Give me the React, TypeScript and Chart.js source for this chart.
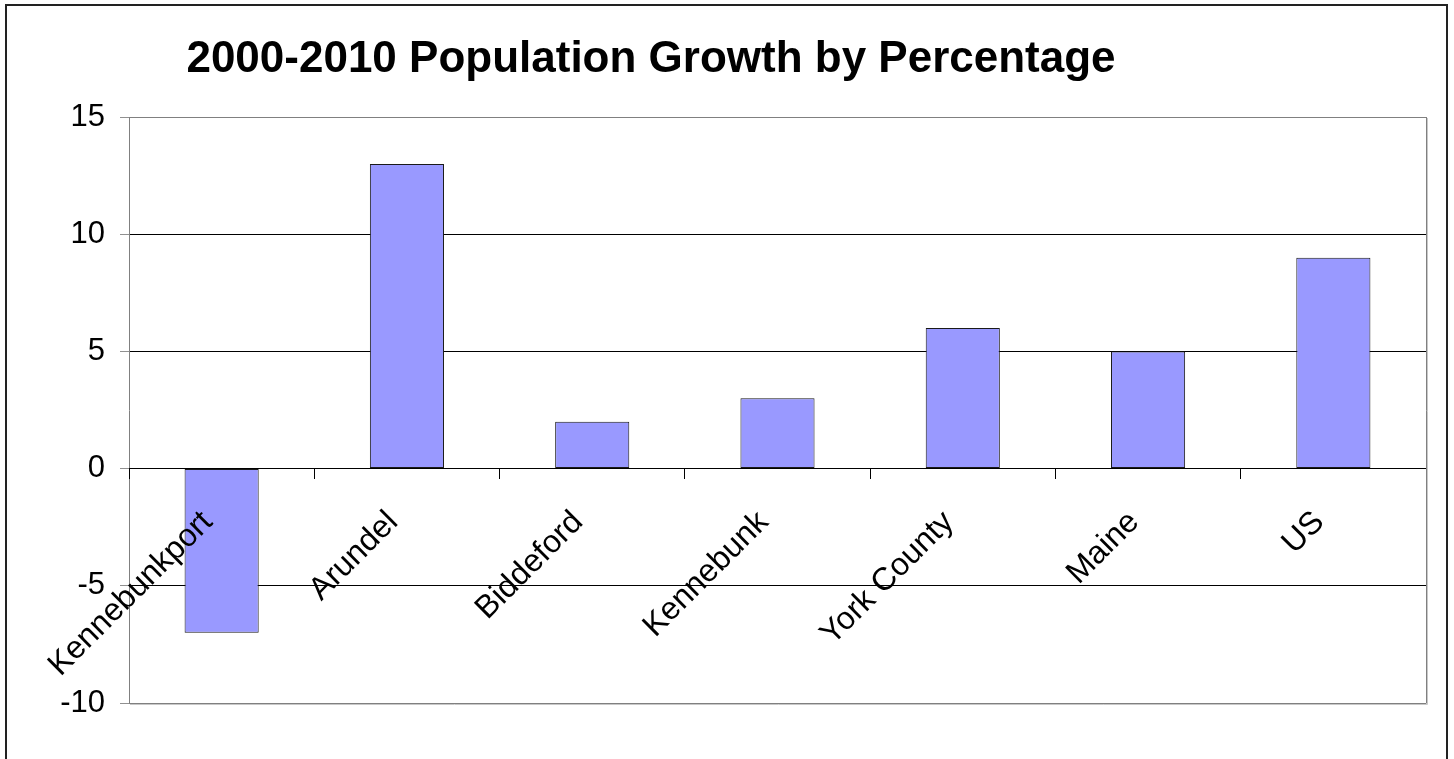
import React, { useEffect, useRef } from 'react';
import { Chart, registerables } from 'chart.js';
Chart.register(...registerables);

const categories = ['Kennebunkport', 'Arundel', 'Biddeford', 'Kennebunk', 'York County', 'Maine', 'US'];
const growthPercent = [-7, 13, 2, 3, 6, 5, 9];
const yTickValues = [-10, -5, 0, 5, 10, 15];
const titleText = '2000-2010 Population Growth by Percentage';

const FONT = '"Liberation Sans", Arial, sans-serif';

export default function App() {
  const ref = useRef<HTMLCanvasElement>(null);
  useEffect(() => {
    const frame = {
      id: 'frame',
      afterDraw(chart: any) {
        const ctx = chart.ctx;
        const a = chart.chartArea;
        ctx.save();
        // plot area border + shadow
        ctx.lineWidth = 1;
        ctx.strokeStyle = '#c8c8c8';
        ctx.beginPath();
        ctx.moveTo(Math.round(a.right) + 1.5, Math.round(a.top) + 1);
        ctx.lineTo(Math.round(a.right) + 1.5, Math.round(a.bottom) + 1.5);
        ctx.lineTo(Math.round(a.left) + 1, Math.round(a.bottom) + 1.5);
        ctx.stroke();
        ctx.strokeStyle = '#808080';
        ctx.beginPath();
        ctx.moveTo(Math.round(a.right) + 0.5, Math.round(a.top));
        ctx.lineTo(Math.round(a.right) + 0.5, Math.round(a.bottom) + 0.5);
        ctx.stroke();
        // outer frame
        ctx.lineWidth = 2;
        ctx.strokeStyle = '#222';
        ctx.strokeRect(6, 5, 1441, 900);
        // title
        ctx.fillStyle = '#000';
        ctx.font = 'bold 44px ' + FONT;
        ctx.textAlign = 'center';
        ctx.textBaseline = 'alphabetic';
        ctx.fillText(titleText, 651, 72);
        ctx.restore();
      },
    };
    const chart = new Chart(ref.current as HTMLCanvasElement, {
      type: 'bar',
      data: {
        labels: categories,
        datasets: [
          {
            data: growthPercent,
            backgroundColor: '#9999FF',
            borderColor: '#1a1a1a',
            borderWidth: 1,
            borderSkipped: false,
            barPercentage: 0.4,
            categoryPercentage: 1,
          },
        ],
      },
      options: {
        animation: false,
        responsive: false,
        layout: { padding: { left: 0, right: 28, top: 117, bottom: 56 } },
        plugins: {
          legend: { display: false },
          title: { display: false },
          tooltip: { enabled: false },
        },
        scales: {
          x: {
            position: { y: 0 } as any,
            grid: {
              drawOnChartArea: false,
              drawTicks: true,
              tickLength: 10,
              tickColor: '#000',
              offset: true,
              z: 1,
            },
            border: { color: '#000', width: 1, z: 1 },
            ticks: {
              font: { family: FONT, size: 32 },
              color: '#000',
              minRotation: 45,
              maxRotation: 45,
              autoSkip: false,
              padding: 25,
              labelOffset: -14,
              z: 2,
            },
          },
          y: {
            min: -10,
            max: 15,
            afterBuildTicks: (s: any) => {
              s.ticks = yTickValues.map((v) => ({ value: v }));
            },
            afterFit: (s: any) => {
              s.width = 129;
            },
            grid: {
              color: (c: any) =>
                c.tick && (c.tick.value === 15 || c.tick.value === -10) ? '#808080' : '#000',
              tickColor: '#909090',
              tickLength: 9,
            },
            border: { color: '#808080' },
            ticks: {
              font: { family: FONT, size: 31 },
              color: '#000',
              padding: 15,
            },
          },
        },
      },
      plugins: [frame],
    });
    return () => chart.destroy();
  }, []);
  return (
    <div style={{ position: 'absolute', left: 0, top: 0, width: 1454, height: 759, background: '#fff' }}>
      <canvas ref={ref} width={1454} height={759} style={{ display: 'block' }} />
    </div>
  );
}
